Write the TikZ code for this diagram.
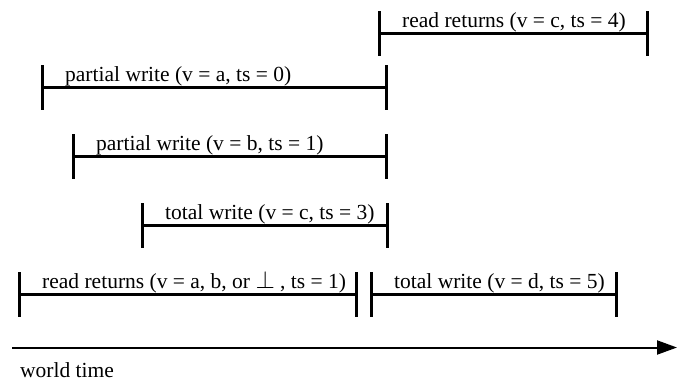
\documentclass[tikz,border=0pt]{standalone}
\usepackage{fontspec}
\setmainfont{Liberation Serif}
\usetikzlibrary{arrows.meta,calc}

\tikzset{
  span/.style={line width=2.5pt},
  endbar/.style={line width=3pt},
  lbl/.style={anchor=base west, inner sep=0pt, font=\fontsize{21.5}{26}\selectfont},
  axis/.style={line width=2pt, -{Triangle[length=20pt,width=14pt]}},
}

% larger bottom symbol for the undefined value
\newcommand\undefval{{\fontsize{26}{30}\selectfont$\perp$}}

% #1 name, #2 start x, #3 end x, #4 line y, #5 label
\newcommand\drawspan[5]{%
  \coordinate (#1s) at (#2,#4);
  \coordinate (#1e) at (#3,#4);
  \draw[span] (#1s) -- (#1e);
  \draw[endbar] ($(#1s)+(0,-22.5)$) -- ($(#1s)+(0,22.5)$);
  \draw[endbar] ($(#1e)+(0,-22.5)$) -- ($(#1e)+(0,22.5)$);
  \node[lbl] (#1t) at ($(#1s)+(23,-6.5)$) {#5};
}

\begin{document}
\begin{tikzpicture}[x=1pt, y=-1pt]
  \useasboundingbox (0,0) rectangle (682,384);

  \drawspan{rd}{379}{647}{33.5}{read returns (v = c, ts = 4)}
  \drawspan{pa}{42}{386}{87.5}{partial write (v = a, ts = 0)}
  \drawspan{pb}{73}{386}{156.5}{partial write (v = b, ts = 1)}
  \drawspan{tc}{142}{387}{225.5}{total write (v = c, ts = 3)}
  \drawspan{rb}{19}{356}{294.5}{read returns (v = a, b, or \undefval\ , ts = 1)}
  \drawspan{td}{371}{616}{294.5}{total write (v = d, ts = 5)}

  % time axis
  \coordinate (t0) at (12,347.5);
  \coordinate (t1) at (677,347.5);
  \draw[axis] (t0) -- (t1);
  \node[lbl] (wt) at (20,377.5) {world time};
\end{tikzpicture}
\end{document}
